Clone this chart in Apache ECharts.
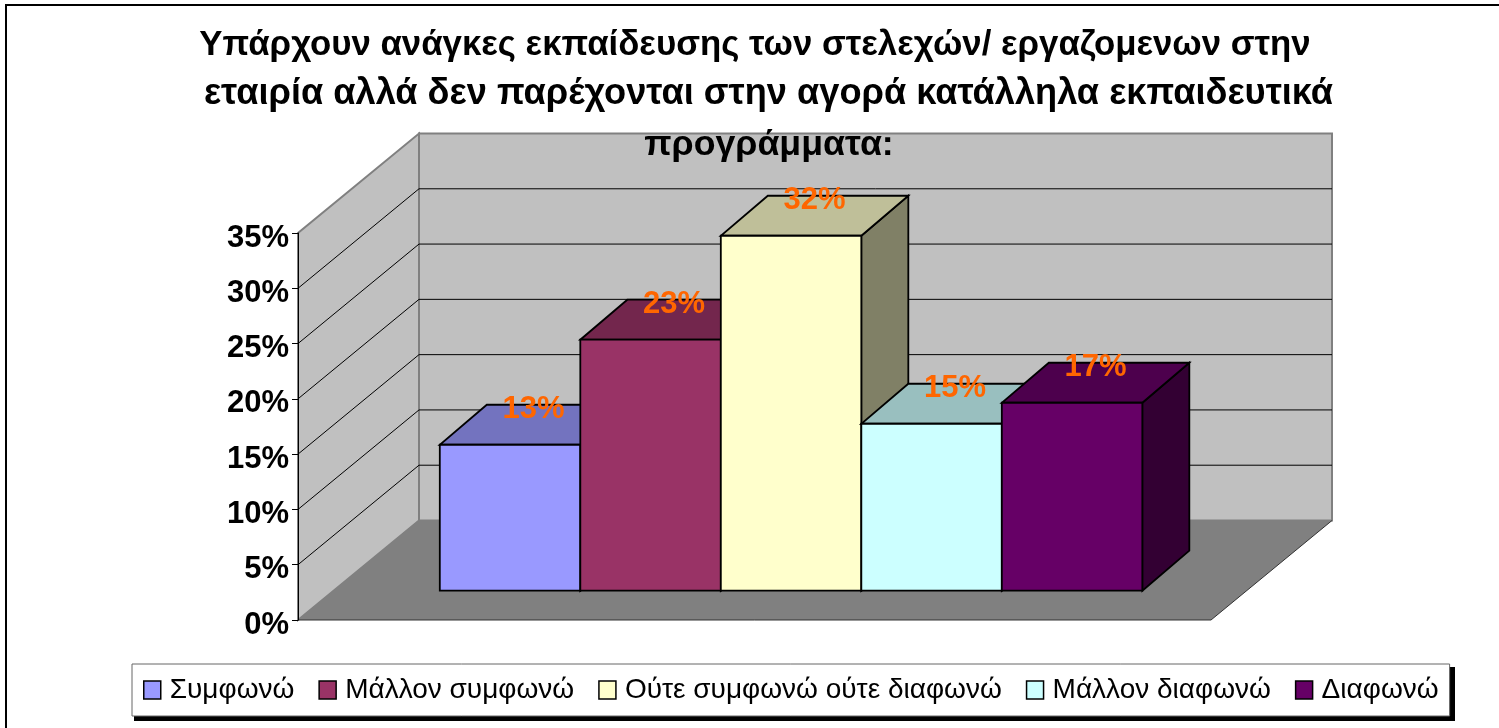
<!DOCTYPE html>
<html>
<head>
<meta charset="utf-8">
<title>Ανάγκες εκπαίδευσης</title>
<style>
    html, body { margin: 0; padding: 0; background: #fff; }
    #chart { width: 1499px; height: 728px; }
</style>
<script src="https://cdn.jsdelivr.net/npm/echarts@6/dist/echarts.min.js"></script>
</head>
<body>
<div id="chart"></div>
<script>
var titleLines = [
    'Υπάρχουν ανάγκες εκπαίδευσης των στελεχών/ εργαζομενων στην',
    'εταιρία αλλά δεν παρέχονται στην αγορά κατάλληλα εκπαιδευτικά',
    'προγράμματα:'
];
var categories = ['Συμφωνώ', 'Μάλλον συμφωνώ', 'Ούτε συμφωνώ ούτε διαφωνώ', 'Μάλλον διαφωνώ', 'Διαφωνώ'];
var values = [13.2, 22.7, 32.1, 15.1, 17];
var yTicks = [0, 5, 10, 15, 20, 25, 30, 35];

var frontColors = ['#9999FF', '#993366', '#FFFFCC', '#CCFFFF', '#660066'];
var topColors = ['#7373BF', '#73264D', '#BFBF99', '#99BFBF', '#4D004D'];
var sideColors = ['#4D4D80', '#4D1A33', '#808066', '#668080', '#330033'];

// the three title lines sit on slightly different centres in the reference
var titleCentres = [755, 768.5, 769];
var titleTops = [20, 69, 120];
var titleSizes = [34.8, 36.2, 35.7];

// hidden x scale: one unit is one bar width
var xMin = -1.258;
var xMax = 5.24;
var yMin = 0;
var yMax = 35;

// oblique projection, in pixels
var wallDepth = [121, -99.5];
var barShift = [35.3, -29.3];
var barDepth = [47, -40];

function shift(p, d) {
    return [p[0] + d[0], p[1] + d[1]];
}

function poly(points, fill, stroke, width) {
    return {
        type: 'polygon',
        shape: { points: points },
        style: { fill: fill, stroke: stroke || null, lineWidth: width || 0, lineJoin: 'miter' }
    };
}

function seg(a, b, color, width) {
    return {
        type: 'line',
        shape: { x1: a[0], y1: a[1], x2: b[0], y2: b[1] },
        style: { stroke: color, lineWidth: width }
    };
}

/**
 * Back wall, side wall and floor, plus the grid line of one tick.
 */
function renderWalls(params, api) {
    var tick = api.value(0);
    var children = [];
    var fl = api.coord([xMin, yMin]);
    var fr = api.coord([xMax, yMin]);
    var tl = api.coord([xMin, yMax]);
    var tr = api.coord([xMax, yMax]);
    if (params.dataIndex === 0) {
        var gray = '#808080';
        children.push(poly([shift(fl, wallDepth), shift(fr, wallDepth), shift(tr, wallDepth), shift(tl, wallDepth)], '#C0C0C0', gray, 2));
        children.push(poly([fl, shift(fl, wallDepth), shift(tl, wallDepth), tl], '#C0C0C0', gray, 2));
        children.push(poly([fl, fr, shift(fr, wallDepth), shift(fl, wallDepth)], gray));
        children.push(seg(fl, fr, '#333', 1));
        children.push(seg(fr, shift(fr, wallDepth), '#333', 1));
    } else if (tick < yMax) {
        var a = api.coord([xMin, tick]);
        var b = api.coord([xMax, tick]);
        children.push(seg(a, shift(a, wallDepth), '#000', 1));
        children.push(seg(shift(a, wallDepth), shift(b, wallDepth), '#000', 1));
    }
    return { type: 'group', children: children };
}

/**
 * One box: side and top faces behind the front one, then its label.
 */
function renderBar(params, api) {
    var idx = api.value(0);
    var v = api.value(1);
    var bl = shift(api.coord([idx - 0.5, 0]), barShift);
    var br = shift(api.coord([idx + 0.5, 0]), barShift);
    var tl = shift(api.coord([idx - 0.5, v]), barShift);
    var tr = shift(api.coord([idx + 0.5, v]), barShift);
    var line = '#000';
    return {
        type: 'group',
        children: [
            poly([br, shift(br, barDepth), shift(tr, barDepth), tr], sideColors[idx], line, 1.8),
            poly([tl, tr, shift(tr, barDepth), shift(tl, barDepth)], topColors[idx], line, 1.8),
            poly([bl, br, tr, tl], frontColors[idx], line, 1.8),
            {
                type: 'text',
                z2: 50,
                style: {
                    x: (tl[0] + tr[0]) / 2 + barDepth[0] / 2,
                    y: tl[1] + barDepth[1] / 2 - 15,
                    text: Math.round(v) + '%',
                    fill: '#FF6600',
                    font: 'bold 31px "Liberation Sans", Arial, sans-serif',
                    align: 'center',
                    verticalAlign: 'middle'
                }
            }
        ]
    };
}

var series = [{
    name: 'walls',
    type: 'custom',
    silent: true,
    renderItem: renderWalls,
    encode: { y: 0 },
    data: yTicks.map(function (t) { return [t]; }),
    z: 1
}];

categories.forEach(function (name, i) {
    series.push({
        name: name,
        type: 'custom',
        silent: true,
        renderItem: renderBar,
        encode: { x: 0, y: 1 },
        itemStyle: { color: frontColors[i] },
        data: [[i, values[i]]],
        z: 2 + i
    });
});

var chart = echarts.init(document.getElementById('chart'));
chart.setOption({
    animation: false,
    backgroundColor: '#fff',
    textStyle: { fontFamily: '"Liberation Sans", Arial, sans-serif' },
    title: titleLines.map(function (line, i) {
        return {
            text: line,
            left: titleCentres[i],
            top: titleTops[i],
            padding: 0,
            textAlign: 'center',
            textStyle: {
                color: '#000',
                fontSize: titleSizes[i],
                fontWeight: 'bold',
                lineHeight: 50,
                fontFamily: '"Liberation Sans", Arial, sans-serif'
            },
            z: 20
        };
    }),
    legend: {
        data: categories,
        left: 132,
        top: 664,
        orient: 'horizontal',
        padding: [12, 11, 12, 11],
        itemGap: 24,
        itemWidth: 17,
        itemHeight: 18,
        selectedMode: false,
        icon: 'rect',
        backgroundColor: '#fff',
        borderColor: '#666',
        borderWidth: 1,
        borderRadius: 0,
        itemStyle: { borderColor: '#000', borderWidth: 1.5 },
        textStyle: {
            color: '#000',
            fontSize: 28,
            padding: [0, 0, 0, 4],
            fontFamily: '"Liberation Sans", Arial, sans-serif'
        }
    },
    grid: { left: 298, top: 233, width: 913, height: 387, containLabel: false },
    xAxis: { type: 'value', min: xMin, max: xMax, show: false },
    yAxis: {
        type: 'value',
        min: yMin,
        max: yMax,
        interval: 5,
        z: 10,
        axisLine: { show: true, onZero: false, lineStyle: { color: '#000', width: 1 } },
        axisTick: { show: true, length: 6, lineStyle: { color: '#000', width: 1 } },
        splitLine: { show: false },
        axisLabel: {
            formatter: '{value}%',
            color: '#000',
            fontSize: 31,
            fontWeight: 'bold',
            margin: 9,
            verticalAlign: 'top',
            lineHeight: 10,
            fontFamily: '"Liberation Sans", Arial, sans-serif'
        }
    },
    graphic: [{
        type: 'rect',
        silent: true,
        shape: { x: 6, y: 5, width: 1600, height: 900 },
        style: { fill: null, stroke: '#000', lineWidth: 2 }
    }, {
        // drop shadow behind the legend box
        type: 'rect',
        silent: true,
        z: 0,
        shape: { x: 134, y: 667, width: 1321, height: 54 },
        style: { fill: '#000' }
    }],
    series: series
});
</script>
</body>
</html>
